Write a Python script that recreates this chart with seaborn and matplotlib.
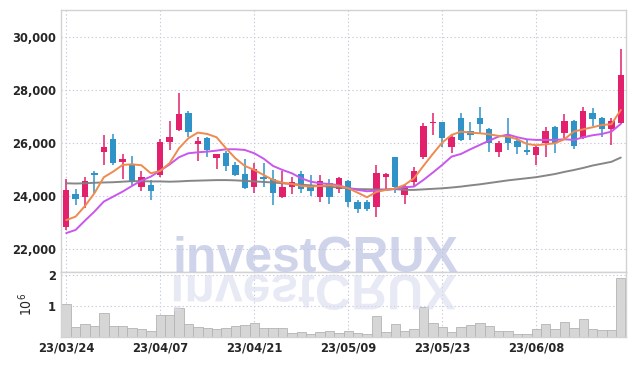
import numpy as np
import pandas as pd
import matplotlib
matplotlib.use("Agg")
import matplotlib.pyplot as plt
import matplotlib.font_manager as fm
import seaborn as sns
from matplotlib.textpath import TextPath
from matplotlib.patches import PathPatch
from matplotlib.font_manager import FontProperties
from matplotlib.transforms import Affine2D, IdentityTransform

# ---------------- data ----------------
dates = [
    "23/03/24", "23/03/27", "23/03/28", "23/03/29", "23/03/30", "23/03/31",
    "23/04/03", "23/04/04", "23/04/05", "23/04/06", "23/04/07",
    "23/04/10", "23/04/11", "23/04/12", "23/04/13", "23/04/14",
    "23/04/17", "23/04/18", "23/04/19", "23/04/20", "23/04/21",
    "23/04/24", "23/04/25", "23/04/26", "23/04/27", "23/04/28",
    "23/05/02", "23/05/03", "23/05/04", "23/05/08", "23/05/09",
    "23/05/10", "23/05/11", "23/05/12", "23/05/15", "23/05/16",
    "23/05/17", "23/05/18", "23/05/19", "23/05/22", "23/05/23",
    "23/05/24", "23/05/25", "23/05/26", "23/05/30", "23/05/31",
    "23/06/01", "23/06/02", "23/06/05", "23/06/07", "23/06/08",
    "23/06/09", "23/06/12", "23/06/13", "23/06/14", "23/06/15",
    "23/06/16", "23/06/19", "23/06/20", "23/06/21",
]
opens = [22855, 24088, 23962, 24868, 25673, 26164, 25308, 25170, 24365, 24428,
         24817, 26063, 26503, 27157, 25987, 26201, 25459, 25635, 25182, 24843,
         24365, 24729, 24654, 23962, 24365, 24843, 24428, 23987, 24490, 24264,
         24579, 23773, 23773, 23610, 24717, 25484, 24063, 24553, 25497, 26755,
         26805, 25874, 26956, 26465, 26956, 26541, 25685, 26300, 26088, 25748,
         25560, 26000, 26604, 26377, 26855, 26214, 27132, 26944, 26528, 26780]
highs = [24641, 24264, 24717, 24969, 26302, 26352, 25597, 25522, 24943, 24616,
         26151, 26830, 27887, 27233, 26226, 26252, 25610, 25723, 25308, 25396,
         25270, 25245, 24994, 24969, 24717, 24969, 24792, 24792, 24641, 24742,
         24616, 23861, 23861, 25170, 24893, 25500, 24465, 25094, 26780, 27132,
         26820, 26352, 27132, 26805, 27359, 26560, 26075, 26944, 26252, 26126,
         25899, 26629, 26654, 27094, 26870, 27384, 27346, 26981, 26944, 29548]
lows = [22729, 23660, 23560, 24138, 25170, 25170, 24641, 24415, 24214, 23861,
        24742, 25760, 26478, 26226, 25333, 25472, 25019, 24956, 24767, 24264,
        24113, 24365, 23660, 23937, 24088, 24138, 24012, 23799, 23710, 24138,
        23585, 23358, 23459, 23232, 24264, 24113, 23710, 24365, 25421, 26315,
        25849, 25623, 26100, 26126, 26377, 25685, 25472, 25748, 25597, 25560,
        25182, 25472, 25623, 26189, 25774, 26176, 26654, 26252, 25937, 26730]
closes = [24239, 23912, 24566, 24805, 25849, 25270, 25421, 24553, 24717, 24214,
          26050, 26252, 27107, 26440, 26088, 25748, 25597, 25145, 24805, 24314,
          25031, 24667, 24113, 24365, 24553, 24264, 24214, 24579, 23987, 24692,
          23799, 23534, 23534, 24880, 24855, 24365, 24390, 24956, 26654, 26805,
          26214, 26252, 26126, 26327, 26730, 26025, 26000, 26025, 25874, 25685,
          25874, 26465, 26025, 26855, 25899, 27233, 26931, 26528, 26855, 28579]
volume_m = [1.05, 0.32, 0.41, 0.34, 0.76, 0.34, 0.34, 0.29, 0.26, 0.18,
            0.71, 0.71, 0.95, 0.41, 0.32, 0.29, 0.26, 0.29, 0.35, 0.39,
            0.44, 0.29, 0.29, 0.29, 0.12, 0.15, 0.09, 0.15, 0.18, 0.13,
            0.20, 0.12, 0.09, 0.67, 0.15, 0.41, 0.18, 0.26, 0.96, 0.44,
            0.32, 0.15, 0.32, 0.38, 0.44, 0.34, 0.18, 0.18, 0.09, 0.09,
            0.26, 0.41, 0.26, 0.47, 0.29, 0.58, 0.26, 0.22, 0.22, 1.89]
ma_short = [23100, 23232, 23635, 24113, 24717, 24931, 25182, 25207, 25170, 24868,
            24956, 25250, 25811, 26189, 26403, 26352, 26226, 25811, 25434, 25145,
            24994, 24805, 24616, 24516, 24465, 24390, 24365, 24390, 24415, 24390,
            24302, 24138, 23962, 24163, 24239, 24289, 24428, 24679, 25145, 25597,
            26025, 26315, 26440, 26403, 26377, 26340, 26277, 26252, 26151, 25975,
            25925, 25962, 26000, 26151, 26440, 26528, 26604, 26692, 26717, 27258]
ma_mid = [22610, 22729, 23082, 23421, 23799, 23987, 24176, 24390, 24591, 24742,
          24968, 25200, 25472, 25623, 25660, 25685, 25723, 25774, 25774, 25748,
          25623, 25421, 25145, 24994, 24868, 24679, 24553, 24490, 24465, 24415,
          24302, 24239, 24189, 24214, 24239, 24280, 24340, 24365, 24616, 24893,
          25182, 25497, 25597, 25774, 25937, 26100, 26252, 26330, 26226, 26151,
          26126, 26126, 26126, 26151, 26126, 26226, 26302, 26352, 26440, 26730]
ma_long = [24490, 24480, 24490, 24510, 24520, 24530, 24550, 24570, 24570, 24560,
           24560, 24550, 24560, 24580, 24590, 24600, 24610, 24610, 24600, 24580,
           24560, 24540, 24520, 24490, 24460, 24440, 24410, 24390, 24360, 24330,
           24300, 24270, 24265, 24255, 24260, 24270, 24240, 24240, 24260, 24280,
           24300, 24330, 24365, 24410, 24450, 24500, 24550, 24600, 24640, 24680,
           24720, 24780, 24840, 24920, 24990, 25070, 25160, 25230, 25300, 25460]
price_ticks = [22000, 24000, 26000, 28000, 30000]
vol_ticks = [1, 2]
date_tick_step = 10

# ---------------- style ----------------
sns.set_theme(style="white")

# choose a narrow font if one is installed
_fonts = fm.fontManager.ttflist
_names = {f.name for f in _fonts}
tick_stretch = "normal"
if "Liberation Sans Narrow" in _names:
    tick_family = ["Liberation Sans Narrow", "DejaVu Sans"]
elif any(f.name == "DejaVu Sans" and "condensed" in str(f.stretch) for f in _fonts):
    tick_family = ["DejaVu Sans"]
    tick_stretch = "condensed"
elif "Liberation Sans" in _names:
    tick_family = ["Liberation Sans", "DejaVu Sans"]
else:
    tick_family = ["DejaVu Sans"]
plt.rcParams["font.family"] = tick_family
plt.rcParams["font.stretch"] = tick_stretch

PINK = "#e3206b"
BLUE = "#2f93c8"
ORANGE = "#ef8a4f"
PURPLE = "#c957ec"
GRAY = "#808080"
GRID = "#c9c9dd"
SPINE = "#d2d2d2"
TXT = "#262626"

df = pd.DataFrame({"date": dates, "open": opens, "high": highs, "low": lows,
                   "close": closes, "vol": volume_m, "ma_s": ma_short,
                   "ma_m": ma_mid, "ma_l": ma_long})
df["i"] = np.arange(len(df))
df["up"] = df["close"] >= df["open"]

W, H = 634, 366
fig = plt.figure(figsize=(W / 100, H / 100), dpi=100)
fig.patch.set_facecolor("white")

# calibrate tick font size so a date label is close to the reference width
rend = fig.canvas.get_renderer()
_t = fig.text(0, 0, "23/03/24", fontsize=12, weight="bold", family=tick_family,
              stretch=tick_stretch)
_w = _t.get_window_extent(rend).width
_t.remove()
tick_fs = min(12.5, 12 * 56.0 / _w)

left, right = 61.5, 625.5
ax1 = fig.add_axes([left / W, 1 - 272.3 / H, (right - left) / W, (272.3 - 10) / H])
ax2 = fig.add_axes([left / W, 1 - 337 / H, (right - left) / W, (337 - 272.3) / H], sharex=ax1)

# ---------------- price panel ----------------
cols = np.where(df["up"], PINK, BLUE)
ax1.vlines(df["i"], df["low"], df["high"], colors=cols, lw=1.1, zorder=2)
body_lo = np.minimum(df["open"], df["close"])
body_h = np.maximum(np.abs(df["close"] - df["open"]), 45)
ax1.bar(df["i"], body_h, bottom=body_lo, width=0.66, color=cols, linewidth=0, zorder=3)

sns.lineplot(data=df, x="i", y="ma_l", ax=ax1, color=GRAY, lw=1.4, alpha=0.95, zorder=4)
sns.lineplot(data=df, x="i", y="ma_m", ax=ax1, color=PURPLE, lw=1.4, zorder=5)
sns.lineplot(data=df, x="i", y="ma_s", ax=ax1, color=ORANGE, lw=1.4, zorder=6)

ax1.set_ylim(21130, 31030)
ax1.set_yticks(price_ticks)
ax1.set_yticklabels([f"{v:,}" for v in price_ticks])
ax1.set_xlabel("")
ax1.set_ylabel("")

# ---------------- volume panel ----------------
sns.barplot(data=df, x="i", y="vol", native_scale=True, width=1.0, color="#d6d6d6",
            edgecolor="#b4b4b4", linewidth=0.6, saturation=1, ax=ax2, zorder=2)
ax2.set_ylim(0, 2.09)
ax2.set_yticks(vol_ticks)
ax2.set_yticklabels([str(v) for v in vol_ticks])
ax2.set_xlabel("")
ax2.set_ylabel(r"$10^6$", fontsize=10, color=TXT, labelpad=9)

tick_idx = list(range(0, len(dates), date_tick_step))
ax2.set_xticks(tick_idx)
ax2.set_xticklabels([dates[k] for k in tick_idx])
ax2.set_xlim(-0.5, len(dates) - 0.5)

for ax in (ax1, ax2):
    ax.set_axisbelow(True)
    ax.grid(True, ls=(0, (1.2, 2.2)), color=GRID, lw=0.8)
    for s in ax.spines.values():
        s.set_color(SPINE)
        s.set_linewidth(1.0)
    ax.tick_params(length=0, labelsize=tick_fs, colors=TXT, pad=4)
    ax.set_facecolor("white")
    for lab in ax.get_xticklabels() + ax.get_yticklabels():
        lab.set_fontweight("bold")
        lab.set_fontstretch(tick_stretch)
plt.setp(ax1.get_xticklabels(), visible=False)
ax2.tick_params(axis="x", pad=3)

# ---------------- watermark ----------------
wm_px = 50
cx, base = 315, 272.0
fp = FontProperties(family=["Liberation Sans", "DejaVu Sans"], weight="bold")
fig.text(cx / W, 1 - base / H, "investCRUX", ha="center", va="baseline",
         fontsize=wm_px * 72 / 100, fontproperties=fp, color="#bcc3e2", alpha=0.7, zorder=10)
fp2 = FontProperties(family=["Liberation Sans", "DejaVu Sans"], weight="bold", size=wm_px)
tp = TextPath((0, 0), "investCRUX", prop=fp2)
bb = tp.get_extents()
tr = Affine2D().scale(1, -1).translate(cx - (bb.x0 + bb.width / 2), (H - base) - 3)
patch = PathPatch(tr.transform_path(tp), transform=IdentityTransform(),
                  fc="#d8dbee", ec="none", alpha=0.6, zorder=10)
fig.add_artist(patch)

fig.savefig("out.png", dpi=100, facecolor="white")
